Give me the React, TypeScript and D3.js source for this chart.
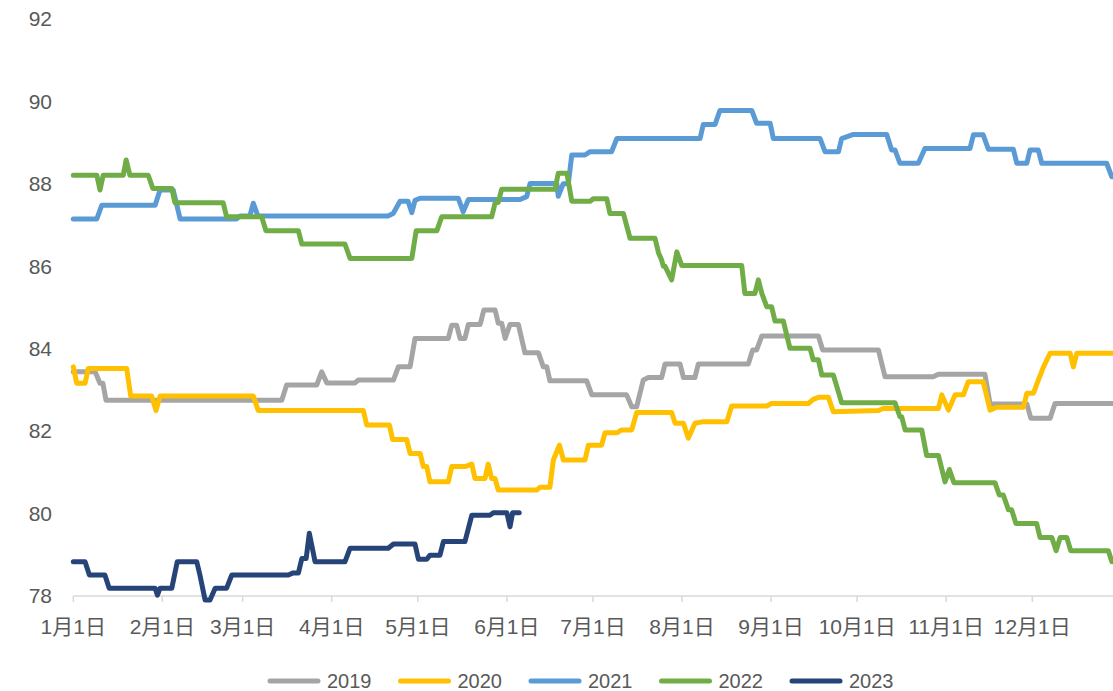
import React from "react";
import * as d3 from "d3";

const monthLabels = ["1月1日","2月1日","3月1日","4月1日","5月1日","6月1日","7月1日","8月1日","9月1日","10月1日","11月1日","12月1日"];
const monthStartDays = [0,31,59,90,120,151,181,212,243,273,304,334];
const yTicks = [78,80,82,84,86,88,90,92];
const years = ["2019","2020","2021","2022","2023"];
const colors = ["#A5A5A5","#FFC000","#5B9BD5","#70AD47","#264478"];

// [day of year, value]
const s2019: [number, number][] = [
  [0,83.44],[7.6,83.44],[9.3,83.16],[10.3,83.16],[11.4,82.75],[72.6,82.75],[74.3,83.12],[84.8,83.12],
  [86.5,83.44],[88.3,83.17],[98.1,83.17],[99.3,83.24],[111.5,83.24],[113.2,83.56],[117.3,83.56],
  [119,84.25],[130.6,84.25],[131.8,84.57],[133.5,84.57],[134.7,84.25],[136.4,84.25],[137.6,84.59],
  [141.7,84.59],[143,84.94],[146.9,84.94],[148,84.62],[149.2,84.62],[150.4,84.25],[152.1,84.59],
  [155,84.59],[157.3,83.9],[162,83.9],[163.7,83.56],[164.9,83.56],[166,83.22],[178.8,83.22],
  [180.6,82.88],[192.7,82.88],[194.5,82.59],[196.2,82.59],[198.5,83.24],[200.3,83.3],[204.9,83.3],
  [206.1,83.63],[211.3,83.63],[212.5,83.3],[216.5,83.3],[217.7,83.63],[235.1,83.63],[236.6,83.97],
  [238,83.97],[239.8,84.31],[259.5,84.31],[261,83.97],[280.4,83.97],[282.7,83.32],[299.5,83.32],
  [301.3,83.38],[317.5,83.38],[319.3,82.66],[332.1,82.66],[333.5,82.31],[340.2,82.31],[341.9,82.67],
  [365,82.67]
];

const s2020: [number, number][] = [
  [0,83.56],[1.2,83.16],[4.1,83.16],[5.2,83.52],[18.6,83.52],[20,82.85],[27.3,82.85],[28.8,82.5],
  [30.2,82.85],[62.7,82.85],[64.4,82.5],[101,82.5],[102.2,82.15],[110.1,82.15],[111.2,81.8],
  [116.1,81.8],[117.3,81.46],[120.8,81.46],[121.9,81.14],[123.1,81.14],[124.2,80.77],[130.6,80.77],
  [131.8,81.14],[136.4,81.14],[138.8,81.2],[139.9,80.85],[143.4,80.85],[144.5,81.2],[145.7,80.85],
  [146.9,80.85],[148,80.57],[161.4,80.57],[162.6,80.64],[166,80.64],[167.2,81.3],[169.3,81.66],
  [170.7,81.3],[178.2,81.3],[179.4,81.66],[184,81.66],[185.2,81.96],[189.3,81.96],[191,82.03],
  [194.5,82.03],[196.2,82.45],[208.4,82.45],[209.6,82.19],[212.5,82.19],[214.2,81.83],[216.5,82.19],
  [219.4,82.23],[227.6,82.23],[229.3,82.61],[241.5,82.61],[243.2,82.67],[256,82.67],[257.7,82.77],
  [259.5,82.82],[263,82.82],[264.7,82.47],[280.4,82.5],[282.1,82.55],[301.3,82.55],[302.5,82.88],
  [304.8,82.51],[307.1,82.88],[310,82.88],[311.7,83.2],[316.9,83.2],[319.3,82.51],[321.6,82.58],
  [330.9,82.58],[332.1,82.92],[334.4,82.92],[336.1,83.24],[337.9,83.56],[340.2,83.89],[347.2,83.89],
  [348.3,83.56],[349.5,83.89],[365,83.89]
];

const s2021: [number, number][] = [
  [0,87.15],[8.2,87.15],[9.9,87.48],[28.5,87.48],[30.2,87.85],[34.8,87.85],[37.2,87.15],[56.9,87.15],
  [58.1,87.22],[61.5,87.22],[62.7,87.53],[64.3,87.22],[109.6,87.22],[111.4,87.28],[113.8,87.58],
  [116.6,87.58],[117.9,87.3],[119,87.6],[120.8,87.65],[134.1,87.65],[135.8,87.32],[137.6,87.62],
  [155.6,87.62],[157.9,87.69],[159.1,88.01],[168.4,88.01],[168.9,87.7],[170.6,88.0],[172.4,88.0],
  [173.6,88.7],[178.2,88.7],[180,88.78],[187.5,88.78],[189.3,89.1],[218.3,89.1],[219.4,89.44],
  [223.5,89.44],[225.2,89.78],[236.3,89.78],[238,89.47],[242.7,89.47],[243.8,89.1],[260.1,89.1],
  [261.8,88.78],[266.5,88.78],[267.6,89.1],[271.7,89.2],[283.3,89.2],[285,88.82],[286.2,88.82],
  [287.9,88.5],[294.3,88.5],[296.6,88.86],[312.3,88.86],[313.5,89.19],[316.9,89.19],[318.7,88.84],
  [327.4,88.84],[328.6,88.5],[332.1,88.5],[333.2,88.82],[336.1,88.82],[337.3,88.5],[359.9,88.5],
  [361.7,88.17],[365,88.17]
];

const s2022: [number, number][] = [
  [0,88.21],[8.2,88.21],[9.3,87.85],[10.4,88.21],[17.4,88.21],[18.4,88.58],[19.7,88.21],[26.1,88.21],
  [27.7,87.89],[34.3,87.89],[35.4,87.54],[52.2,87.54],[53.4,87.2],[65.6,87.2],[67.1,86.86],
  [78.4,86.86],[79.6,86.54],[94.6,86.54],[96.4,86.19],[117.9,86.19],[119.4,86.86],[126.6,86.86],
  [128.3,87.2],[145.7,87.2],[146.9,87.53],[148,87.55],[149.2,87.87],[167.8,87.87],[168.9,88.26],
  [171.9,88.26],[173.6,87.58],[180,87.58],[181.1,87.64],[185.8,87.64],[186.9,87.28],[191.6,87.28],
  [193.9,86.68],[202.6,86.68],[203.8,86.33],[204.9,86.15],[205.5,86.0],[206.1,86.0],[208.4,85.67],
  [210.2,86.35],[211.9,86.02],[232.8,86.02],[233.9,85.34],[237.4,85.34],[238.6,85.67],[239.8,85.34],
  [241.5,85.02],[243.2,85.02],[244.4,84.67],[247.3,84.67],[249.6,84.01],[256.6,84.01],[257.7,83.73],
  [259.5,83.73],[260.7,83.36],[264.7,83.36],[266.1,83.04],[267.6,82.69],[286.2,82.69],[287.9,82.35],
  [288.5,82.35],[289.7,82.03],[295.5,82.03],[297.2,81.41],[301.3,81.41],[303.6,80.77],[305.1,81.07],
  [306.7,80.75],[321,80.75],[322.5,80.45],[323.9,80.45],[325.7,80.09],[326.8,80.09],[328.3,79.76],
  [335.5,79.76],[336.7,79.42],[340.8,79.42],[342.3,79.1],[343.7,79.42],[346,79.42],[347.4,79.1],
  [360.5,79.1],[361.7,78.83],[365,78.83]
];

const s2023: [number, number][] = [
  [0,78.83],[4.1,78.83],[5.6,78.51],[11,78.51],[12.5,78.19],[28.5,78.19],[29.3,78.02],[30.2,78.19],
  [34.3,78.19],[36.2,78.83],[43,78.83],[44.1,78.51],[45.9,77.9],[47.6,77.9],[49.4,78.19],[53.4,78.19],
  [55.2,78.51],[74.9,78.51],[76.6,78.56],[78.4,78.56],[79.6,78.91],[81.1,78.91],[82.2,79.52],
  [84.2,78.83],[94.6,78.83],[96.4,79.16],[109.7,79.16],[111.5,79.26],[119,79.26],[120.2,78.89],
  [123.1,78.89],[124.2,78.99],[127.7,78.99],[128.9,79.32],[136.4,79.32],[138.8,79.96],[145.1,79.96],
  [146.3,80.02],[151,80.02],[152.1,79.68],[153,80.02],[155.3,80.02]
];

const seriesList = [s2019, s2020, s2021, s2022, s2023];

const W = 1113;
const H = 691;
const FONT = "'Liberation Sans', Arial, 'Noto Sans CJK SC', sans-serif";
const TEXT_COLOR = "#595959";

export default function App() {
  const x = d3.scaleLinear().domain([0, 334]).range([73.3, 1032.3]);
  const y = d3.scaleLinear().domain([78, 92]).range([596, 19]);
  const line = d3
    .line<[number, number]>()
    .x((d) => x(d[0]))
    .y((d) => y(d[1]));

  const axisY = y(78);

  return (
    <svg
      width={W}
      height={H}
      style={{ position: "absolute", left: 0, top: 0, background: "#fff" }}
    >
      {yTicks.map((t) => (
        <text
          key={t}
          x={52}
          y={y(t)}
          dy="0.35em"
          textAnchor="end"
          fontSize={21}
          fontFamily={FONT}
          fill={TEXT_COLOR}
        >
          {t}
        </text>
      ))}

      <line x1={x(0)} x2={W} y1={axisY} y2={axisY} stroke="#D9D9D9" strokeWidth={1.5} />
      {monthStartDays.map((d, i) => (
        <g key={i}>
          <line x1={x(d)} x2={x(d)} y1={axisY} y2={axisY + 6} stroke="#D9D9D9" strokeWidth={1.5} />
          <text
            x={x(d)}
            y={axisY + 38}
            textAnchor="middle"
            fontSize={21}
            fontFamily={FONT}
            fill={TEXT_COLOR}
          >
            {monthLabels[i]}
          </text>
        </g>
      ))}

      {seriesList.map((s, i) => (
        <path
          key={years[i]}
          d={line(s) || ""}
          fill="none"
          stroke={colors[i]}
          strokeWidth={5}
          strokeLinejoin="round"
          strokeLinecap="round"
        />
      ))}

      {years.map((yr, i) => {
        const x0 = 270 + i * 130.5;
        return (
          <g key={yr}>
            <line
              x1={x0}
              x2={x0 + 48}
              y1={681}
              y2={681}
              stroke={colors[i]}
              strokeWidth={5}
              strokeLinecap="round"
            />
            <text
              x={x0 + 57}
              y={681}
              dy="0.35em"
              fontSize={20}
              fontFamily={FONT}
              fill={TEXT_COLOR}
            >
              {yr}
            </text>
          </g>
        );
      })}
    </svg>
  );
}
